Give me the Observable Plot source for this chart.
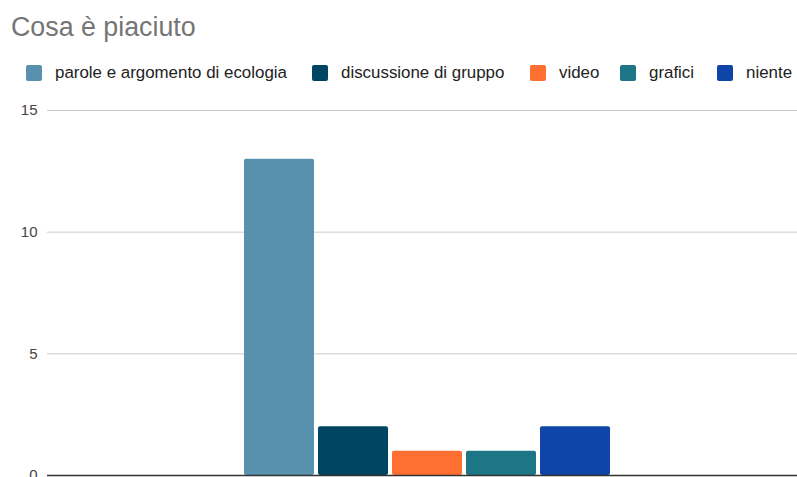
<!DOCTYPE html>
<html>
<head>
<meta charset="utf-8">
<script src="https://cdn.jsdelivr.net/npm/d3@7"></script>
<script src="https://cdn.jsdelivr.net/npm/@observablehq/plot@0.6"></script>
<style>
  html, body { margin: 0; padding: 0; background: #fff; }
  #wrap { position: relative; width: 797px; height: 477px; overflow: hidden; font-family: "Liberation Sans", Arial, sans-serif; }
  #header { position: relative; height: 100px; }
  #title { position: absolute; left: 11px; top: 12px; font-size: 26.8px; color: #757575; white-space: nowrap; }
  .item { position: absolute; top: 64px; height: 18px; display: flex; align-items: center; font-size: 16.9px; color: #222; white-space: nowrap; }
  .sw { width: 16px; height: 16px; border-radius: 2px; margin-right: 13px; }
</style>
</head>
<body>
<div id="wrap">
  <div id="header">
    <div id="title">Cosa è piaciuto</div>
    <div id="legend"></div>
  </div>
  <div id="chart"></div>
</div>
<script>
const series = ["parole e argomento di ecologia", "discussione di gruppo", "video", "grafici", "niente"];
const values = [13, 2, 1, 1, 2];
const colors = ["#5891AD", "#004561", "#FF6F31", "#1C7685", "#0F45A8"];
const yTicks = [0, 5, 10, 15];
const legendLeft = [26, 312, 530, 620, 717];

const data = series.map((s, i) => ({ series: s, value: values[i] }));

// legend
const legend = document.getElementById("legend");
series.forEach((s, i) => {
  const it = document.createElement("div");
  it.className = "item";
  it.style.left = legendLeft[i] + "px";
  const sw = document.createElement("span");
  sw.className = "sw";
  sw.style.background = colors[i];
  const tx = document.createElement("span");
  tx.textContent = s;
  it.appendChild(sw);
  it.appendChild(tx);
  legend.appendChild(it);
});

const chart = Plot.plot({
  width: 797,
  height: 390,
  marginTop: 10,
  marginBottom: 15,
  marginLeft: 47,
  marginRight: 0,
  style: { fontFamily: "Liberation Sans, Arial, sans-serif", fontSize: "15px", background: "transparent", overflow: "visible" },
  x: { type: "band", domain: series, range: [244, 611], paddingInner: 0.05, paddingOuter: 0, axis: null },
  y: { domain: [0, 15], axis: null },
  color: { domain: series, range: colors },
  marks: [
    Plot.ruleY(yTicks.filter(d => d > 0), { stroke: "#cccccc", strokeWidth: 1 }),
    Plot.barY(data, { x: "series", y: "value", fill: "series", rx: 2 }),
    Plot.ruleY([0], { stroke: "#333333", strokeWidth: 1.5 }),
    Plot.axisY(yTicks, { tickSize: 0, tickPadding: 10, fontSize: 15, color: "#444", label: null })
  ]
});
document.getElementById("chart").appendChild(chart);
</script>
</body>
</html>
